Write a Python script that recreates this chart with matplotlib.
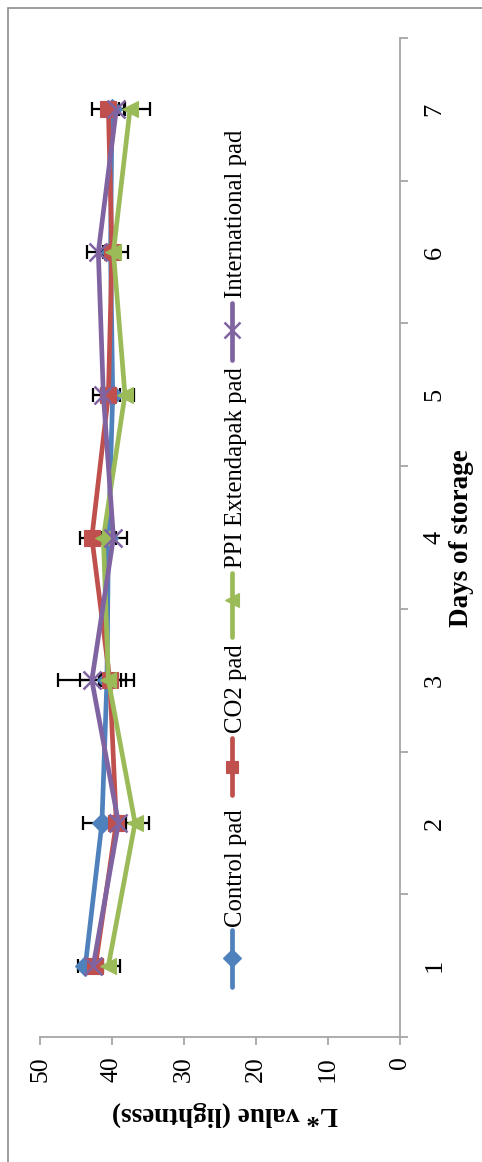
import matplotlib
matplotlib.use("Agg")
import matplotlib.pyplot as plt
from matplotlib.lines import Line2D
from matplotlib.patches import Rectangle

# ---- data ----
days = [1, 2, 3, 4, 5, 6, 7]
series_names = ["Control pad", "CO2 pad", "PPI Extendapak pad", "International pad"]
control = [43.7, 41.4, 40.7, 40.5, 39.9, 40.2, 40.0]
co2 = [42.3, 39.4, 40.3, 42.8, 40.5, 40.0, 40.5]
ppi = [40.5, 36.8, 40.5, 41.2, 38.2, 39.8, 37.5]
international = [42.6, 39.1, 42.8, 39.8, 41.2, 41.9, 39.4]
control_err = [1.0, 2.6, 3.7, 1.0, 1.0, 1.0, 1.0]
co2_err = [1.0, 1.0, 1.5, 1.6, 1.0, 1.0, 2.3]
ppi_err = [1.6, 1.9, 1.0, 1.0, 1.2, 2.0, 2.8]
international_err = [1.0, 1.0, 4.7, 1.9, 1.4, 1.6, 1.0]
value_ticks = [0, 10, 20, 30, 40, 50]
day_labels = ["1", "2", "3", "4", "5", "6", "7"]
x_label = "Days of storage"
y_label = "L* value (lightness)"

colors = ["#4f81bd", "#c0504d", "#9bbb59", "#8064a2"]
markers = ["D", "s", "<", "x"]
msizes = [10.5, 11, 12, 13]

W, H = 482, 1162
fig = plt.figure(figsize=(W / 100, H / 100), dpi=100)
FONT = "Liberation Serif"

def fx(x):
    return x / W

def fy(y):
    return 1 - y / H

# outer chart border
fig.add_artist(Rectangle((fx(8), fy(1200)), fx(600), (1200 - 8) / H,
                         transform=fig.transFigure, fill=False,
                         edgecolor="#8c8c8c", linewidth=1.2))

ax = fig.add_axes([fx(40), fy(1037), fx(400) - fx(40), fy(38) - fy(1037)])
ax.set_xlim(50, 0)
ax.set_ylim(0.5, 7.5)

all_vals = [control, co2, ppi, international]
all_errs = [control_err, co2_err, ppi_err, international_err]
for i, (vals, errs) in enumerate(zip(all_vals, all_errs)):
    ax.errorbar(vals, days, xerr=errs, fmt="none", ecolor="black",
                elinewidth=1.6, capsize=5, capthick=1.6, zorder=2)
for i, vals in enumerate(all_vals):
    ax.plot(vals, days, color=colors[i], linewidth=3.4,
            marker=markers[i], markersize=msizes[i],
            markeredgewidth=1.8 if markers[i] == "x" else 0.8,
            markeredgecolor=colors[i], markerfacecolor=colors[i],
            solid_capstyle="round", zorder=3 + i)

# spines
for s in ["left", "top"]:
    ax.spines[s].set_visible(False)
for s in ["right", "bottom"]:
    ax.spines[s].set_color("#a6a6a6")
    ax.spines[s].set_linewidth(1.3)

# category axis on right with ticks between categories
ax.yaxis.tick_right()
ax.set_yticks([d + 0.5 for d in [0] + days])
ax.set_yticklabels([])
ax.set_yticks(days, minor=True)
ax.set_yticklabels(day_labels, minor=True, rotation=90, va="center",
                   fontfamily=FONT, fontsize=19)
ax.tick_params(axis="y", which="major", direction="out", length=6,
               width=1.3, color="#a6a6a6", right=True, left=False)
ax.tick_params(axis="y", which="minor", length=0, pad=17,
               right=True, left=False)

ax.set_xticks(value_ticks)
ax.set_xticklabels([str(v) for v in value_ticks], rotation=90,
                   ha="center", fontfamily=FONT, fontsize=18.5)
ax.tick_params(axis="x", direction="out", length=6, width=1.3,
               color="#a6a6a6", pad=8)

# axis titles
fig.text(fx(461), fy(538), x_label, rotation=90, ha="center", va="center",
         fontfamily=FONT, fontsize=19.5, fontweight="bold")
fig.text(fx(225), fy(1101), y_label, rotation=180, ha="center",
         va="top", fontfamily=FONT, fontsize=19.5, fontweight="bold")

# legend (vertical, drawn manually)
leg = [(987, 930, 958, 927), (795, 738, 767, 733), (637, 573, 600, 568),
       (360, 303, 330, 298)]
for i, (y0, y1, ym, ty) in enumerate(leg):
    fig.add_artist(Line2D([fx(232), fx(232)], [fy(y0), fy(y1)],
                          transform=fig.transFigure, color=colors[i],
                          linewidth=3.4, solid_capstyle="round"))
    fig.add_artist(Line2D([fx(232)], [fy(ym)], transform=fig.transFigure,
                          marker=markers[i], markersize=msizes[i] * 0.85,
                          markeredgewidth=1.8 if markers[i] == "x" else 0.8,
                          color=colors[i], linestyle="none"))
    fig.text(fx(236), fy(ty), series_names[i], rotation=90, ha="center",
             va="bottom", fontfamily=FONT, fontsize=17.8)

fig.savefig("out.png", dpi=100)
